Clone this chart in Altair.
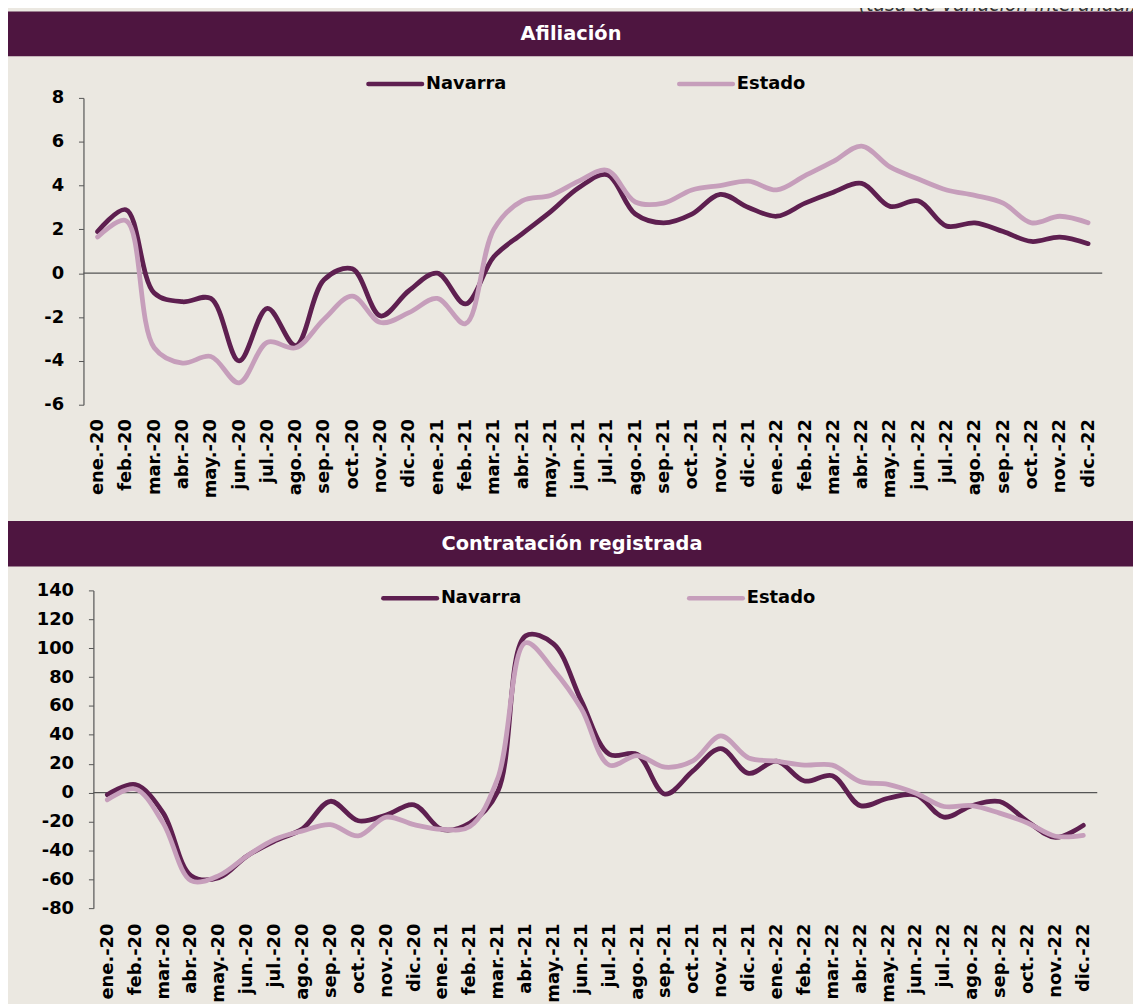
import altair as alt
import pandas as pd

# ---------------- data ----------------
months = [
    "ene.-20", "feb.-20", "mar.-20", "abr.-20", "may.-20", "jun.-20",
    "jul.-20", "ago.-20", "sep.-20", "oct.-20", "nov.-20", "dic.-20",
    "ene.-21", "feb.-21", "mar.-21", "abr.-21", "may.-21", "jun.-21",
    "jul.-21", "ago.-21", "sep.-21", "oct.-21", "nov.-21", "dic.-21",
    "ene.-22", "feb.-22", "mar.-22", "abr.-22", "may.-22", "jun.-22",
    "jul.-22", "ago.-22", "sep.-22", "oct.-22", "nov.-22", "dic.-22",
]
series = ["Navarra", "Estado"]
panel_titles = ["Afiliación", "Contratación registrada"]
note_text = "(tasa de variación interanual)"

afil_navarra = [1.9, 2.9, -0.9, -1.3, -1.15, -4.0, -1.6, -3.3, -0.3, 0.2, -1.95, -0.8,
                0.0, -1.4, 0.75, 1.8, 2.8, 3.9, 4.5, 2.7, 2.3, 2.7, 3.6, 3.0,
                2.6, 3.2, 3.7, 4.1, 3.05, 3.3, 2.15, 2.3, 1.9, 1.45, 1.65, 1.35]
afil_estado = [1.65, 2.4, -3.4, -4.1, -3.8, -5.0, -3.15, -3.4, -2.1, -1.05, -2.25, -1.8,
               -1.15, -2.3, 2.0, 3.3, 3.55, 4.2, 4.7, 3.25, 3.2, 3.8, 4.0, 4.2,
               3.8, 4.45, 5.1, 5.8, 4.85, 4.3, 3.8, 3.55, 3.2, 2.3, 2.6, 2.3]
contr_navarra = [-1.5, 5.5, -14.0, -57.5, -59.0, -44.0, -33.5, -25.0, -6.0, -19.5, -15.5, -8.5,
                 -25.5, -21.0, 0.7, 108.5, 103.0, 63.5, 26.5, 26.5, -1.0, 15.0, 30.5, 13.3,
                 21.8, 8.0, 11.7, -9.0, -3.9, -1.6, -17.0, -9.0, -6.2, -20.0, -31.0, -22.7]
contr_estado = [-5.0, 2.5, -21.0, -61.0, -57.5, -44.0, -32.5, -26.5, -22.2, -30.0, -17.0, -22.2,
                -25.5, -23.5, 9.8, 103.7, 85.0, 58.0, 19.0, 25.6, 17.6, 22.0, 39.2, 24.0,
                21.8, 19.0, 19.0, 7.6, 5.7, -0.5, -9.6, -9.0, -14.2, -21.0, -30.2, -29.6]

afil_ticks = [-6, -4, -2, 0, 2, 4, 6, 8]
contr_ticks = [-80, -60, -40, -20, 0, 20, 40, 60, 80, 100, 120, 140]

# ---------------- style ----------------
BG = "#EBE8E1"
BAR = "#4E1540"
C_NAV = "#5E1F50"
C_EST = "#C69EBB"
AXC = "#555555"
FONT = "DejaVu Sans"
FS = 18

W, H = 1026, 816           # group: top plot y 0-309, bottom plot y 496-816
TOP_H = 309
BOT_Y0, BOT_Y1 = 496, 816
BOT_X0, BOT_X1 = 10, 1021

label_js = "[" + ",".join("'" + m + "'" for m in months) + "]"
label_expr = label_js + "[datum.value]"


def frame(values):
    return pd.DataFrame({"i": list(range(len(months))), "mes": months, "valor": values})


def x_axis(offset, pad):
    return alt.Axis(values=list(range(len(months))), tickCount=len(months) + 4,
                    labelExpr=label_expr, labelAngle=270,
                    labelAlign="right", labelBaseline="middle", ticks=False, domain=False,
                    grid=False, title=None, labelPadding=pad, offset=offset, orient="bottom",
                    labelFont=FONT, labelFontSize=FS, labelFontWeight="bold",
                    labelColor="#000000", labelOverlap=False)


def y_axis(ticks, offset):
    return alt.Axis(values=ticks, tickCount=len(ticks) + 2, labelExpr="'' + datum.value",
                    orient="left", grid=False, title=None, offset=offset,
                    domainColor=AXC, domainWidth=1.2, tickColor=AXC, tickSize=5,
                    labelPadding=15, labelFont=FONT, labelFontSize=FS,
                    labelFontWeight="bold", labelColor="#000000", labelOverlap=False)


def panel(nav, est, xscale, yscale, xaxis, yaxis):
    base_x = alt.X("i:Q", scale=xscale, axis=xaxis)
    base_y = alt.Y("valor:Q", scale=yscale, axis=yaxis)
    rule = alt.Chart(alt.Data(values=[{"k": 0}])).mark_rule(
        color=AXC, strokeWidth=1.3).encode(
        x=alt.X(datum=-0.5, scale=xscale), x2=alt.datum(35.5),
        y=alt.Y(datum=0, scale=yscale))
    l_nav = alt.Chart(frame(nav)).mark_line(
        interpolate="catmull-rom", strokeWidth=4.8, color=C_NAV,
        strokeCap="round").encode(x=base_x, y=base_y)
    l_est = alt.Chart(frame(est)).mark_line(
        interpolate="catmull-rom", strokeWidth=4.8, color=C_EST,
        strokeCap="round").encode(x=base_x, y=base_y)
    return alt.layer(rule, l_nav, l_est)


top = panel(
    afil_navarra, afil_estado,
    alt.Scale(domain=[-0.5, 35.5], nice=False, zero=False),
    alt.Scale(domain=[-6, 8], range=[TOP_H, 0], nice=False, zero=False),
    x_axis(-(H - TOP_H), 14), y_axis(afil_ticks, 0))

bottom = panel(
    contr_navarra, contr_estado,
    alt.Scale(domain=[-0.5, 35.5], range=[BOT_X0, BOT_X1], nice=False, zero=False),
    alt.Scale(domain=[-80, 140], range=[BOT_Y1, BOT_Y0], nice=False, zero=False),
    x_axis(0, 15), y_axis(contr_ticks, -10))

one = alt.Data(values=[{"k": 0}])


def header(y0, y1, title, tx):
    bar = alt.Chart(one).mark_rect(color=BAR).encode(
        x=alt.value(-76), x2=alt.value(1060), y=alt.value(y0), y2=alt.value(y1))
    txt = alt.Chart(one).mark_text(
        font=FONT, fontSize=19.5, fontWeight="bold", color="#FFFFFF",
        align="center", baseline="middle").encode(
        x=alt.value(tx), y=alt.value((y0 + y1) / 2), text=alt.value(title))
    return [bar, txt]


def legend(y, xs):
    out = []
    for name, col, x0 in zip(series, [C_NAV, C_EST], xs):
        out.append(alt.Chart(one).mark_rule(color=col, strokeWidth=4.5, strokeCap="round").encode(
            x=alt.value(x0), x2=alt.value(x0 + 54), y=alt.value(y)))
        out.append(alt.Chart(one).mark_text(
            font=FONT, fontSize=FS, fontWeight="bold", color="#000000",
            align="left", baseline="middle").encode(
            x=alt.value(x0 + 58), y=alt.value(y), text=alt.value(name)))
    return out


note = alt.Chart(one).mark_text(
    font=FONT, fontSize=19, fontStyle="italic", color="#333333",
    align="right", baseline="alphabetic").encode(
    x=alt.value(1062), y=alt.value(-88), text=alt.value(note_text))

decor = (header(-87, -42, panel_titles[0], 491) + header(426, 472, panel_titles[1], 492)
         + legend(-14, [287, 600]) + legend(504, [302, 610]) + [note])

chart = alt.layer(*decor, top, bottom).resolve_scale(
    x="independent", y="independent"
).properties(
    width=W, height=H,
    autosize=alt.AutoSizeParams(type="none"),
    padding={"left": 76, "top": 87, "right": 31, "bottom": 93},
    background=BG,
).configure_view(stroke=None)

chart.save("out.html", embed_options={"renderer": "svg", "actions": False})
